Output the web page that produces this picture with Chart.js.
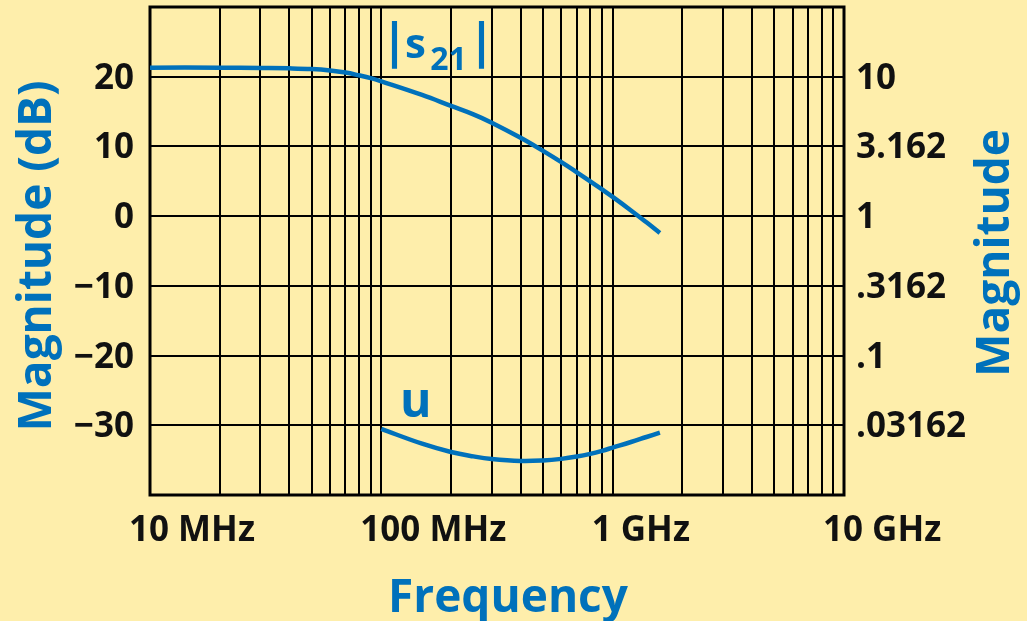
<!DOCTYPE html>
<html>
<head>
<meta charset="utf-8">
<script src="https://cdn.jsdelivr.net/npm/chart.js@4.4.1/dist/chart.umd.min.js"></script>
<style>
    html, body { margin: 0; padding: 0; background: #feeeab; }
    canvas { display: block; }
</style>
</head>
<body>
<canvas id="chart" width="1027" height="621"></canvas>
<script>
// frequencies in MHz
const s21Freq = [10, 20, 30, 40, 50, 60, 70, 80, 90, 100, 150, 200, 250, 300, 400, 500, 600, 700, 800, 900, 1000, 1200, 1400, 1600];
const s21Db = [21.3, 21.3, 21.25, 21.2, 21.1, 20.9, 20.6, 20.2, 19.8, 19.34, 17.39, 15.82, 14.6, 13.41, 11.24, 9.36, 7.74, 6.29, 5.0, 3.83, 2.76, 0.82, -0.89, -2.41];
const uFreq = [100, 150, 200, 250, 300, 400, 500, 600, 700, 800, 900, 1000, 1200, 1400, 1600];
const uDb = [-30.53, -32.64, -33.83, -34.46, -34.84, -35.12, -35.05, -34.82, -34.49, -34.1, -33.66, -33.2, -32.4, -31.68, -31.06];

const freqGrid = [10, 20, 30, 40, 50, 60, 70, 80, 90, 100, 200, 300, 400, 500, 600, 700, 800, 900, 1000, 2000, 3000, 4000, 5000, 6000, 7000, 8000, 9000, 10000];
const freqTicks = [10, 100, 1000, 10000];
const freqLabels = ['10 MHz', '100 MHz', '1 GHz', '10 GHz'];

const dbTicks = [30, 20, 10, 0, -10, -20, -30, -40];
const dbLabels = ['', '20', '10', '0', '\u221210', '\u221220', '\u221230', ''];
const magLabels = ['', '10', '3.162', '1', '.3162', '.1', '.03162', ''];

const BLUE = '#0071bb';
const INK = '#111111';
const FONT = '"Open Sans", "Noto Sans", sans-serif';

const fixedTicks = list => scale => {
    scale.ticks = list.map(v => ({ value: v }));
};

const fitBox = (w, h) => scale => {
    if (w !== null) scale.width = w;
    if (h !== null) scale.height = h;
    scale.paddingTop = 0;
    scale.paddingBottom = 0;
    scale.paddingLeft = 0;
    scale.paddingRight = 0;
};

const decor = {
    id: 'decor',
    beforeDatasetsDraw(chart) {
        const { ctx, chartArea: a } = chart;
        ctx.save();
        ctx.strokeStyle = '#000';
        ctx.lineWidth = 3;
        ctx.strokeRect(a.left, a.top, a.right - a.left, a.bottom - a.top);
        ctx.restore();
    },
    afterDraw(chart) {
        const { ctx } = chart;
        const x = chart.scales.x;
        const y = chart.scales.y;
        ctx.save();

        // frequency labels
        ctx.fillStyle = INK;
        ctx.font = `bold 35px ${FONT}`;
        ctx.textAlign = 'left';
        ctx.textBaseline = 'alphabetic';
        freqTicks.forEach((f, i) => {
            ctx.fillText(freqLabels[i], x.getPixelForValue(f) - 21, 541);
        });

        // axis titles
        ctx.fillStyle = BLUE;
        ctx.font = `bold 46px ${FONT}`;
        ctx.textAlign = 'center';
        ctx.fillText('Frequency', 508, 612);

        ctx.save();
        ctx.translate(51, 256);
        ctx.rotate(-Math.PI / 2);
        ctx.fillText('Magnitude (dB)', 0, 0);
        ctx.restore();

        ctx.save();
        ctx.translate(1009, 253);
        ctx.rotate(-Math.PI / 2);
        ctx.fillText('Magnitude', 0, 0);
        ctx.restore();

        // curve labels
        const sx = x.getPixelForValue(114);
        const sy = y.getPixelForValue(22.7);
        ctx.font = `bold 48px ${FONT}`;
        ctx.fillText('|', sx, sy);
        ctx.fillText('|', sx + 87, sy);
        ctx.font = `bold 42px ${FONT}`;
        ctx.fillText('s', sx + 21, sy);
        ctx.font = `bold 32px ${FONT}`;
        ctx.fillText('21', sx + 54, sy + 12);

        ctx.font = `bold 48px ${FONT}`;
        ctx.fillText('u', x.getPixelForValue(141), y.getPixelForValue(-28.8));

        ctx.restore();
    }
};

const line = (freq, db) => ({
    data: freq.map((f, i) => ({ x: f, y: db[i] })),
    borderColor: BLUE,
    borderWidth: 4.5,
    pointRadius: 0,
    fill: false,
    tension: 0.4,
    yAxisID: 'y',
});

new Chart(document.getElementById('chart'), {
    type: 'line',
    data: {
        datasets: [line(s21Freq, s21Db), line(uFreq, uDb)],
    },
    options: {
        responsive: false,
        animation: false,
        devicePixelRatio: 1,
        layout: { padding: { top: 7, left: 0, right: 0, bottom: 0 } },
        plugins: {
            legend: { display: false },
            tooltip: { enabled: false },
        },
        scales: {
            x: {
                type: 'logarithmic',
                position: 'bottom',
                min: 10,
                max: 10000,
                afterBuildTicks: fixedTicks(freqGrid),
                afterFit: fitBox(null, 126),
                ticks: { display: false },
                grid: { color: '#000', lineWidth: 2, drawTicks: false },
                border: { display: false },
            },
            y: {
                type: 'linear',
                position: 'left',
                min: -40,
                max: 30,
                afterBuildTicks: fixedTicks(dbTicks),
                afterFit: fitBox(150, null),
                ticks: {
                    color: INK,
                    font: { family: FONT, size: 35, weight: 'bold' },
                    padding: 16,
                    labelOffset: 2,
                    callback: (v, i) => dbLabels[i],
                },
                grid: { color: '#000', lineWidth: 2, drawTicks: false },
                border: { display: false },
            },
            y2: {
                type: 'linear',
                position: 'right',
                min: -40,
                max: 30,
                afterBuildTicks: fixedTicks(dbTicks),
                afterFit: fitBox(183, null),
                ticks: {
                    color: INK,
                    font: { family: FONT, size: 35, weight: 'bold' },
                    padding: 12,
                    labelOffset: 2,
                    callback: (v, i) => magLabels[i],
                },
                grid: { display: false, drawTicks: false },
                border: { display: false },
            },
        },
    },
    plugins: [decor],
});
</script>
</body>
</html>
